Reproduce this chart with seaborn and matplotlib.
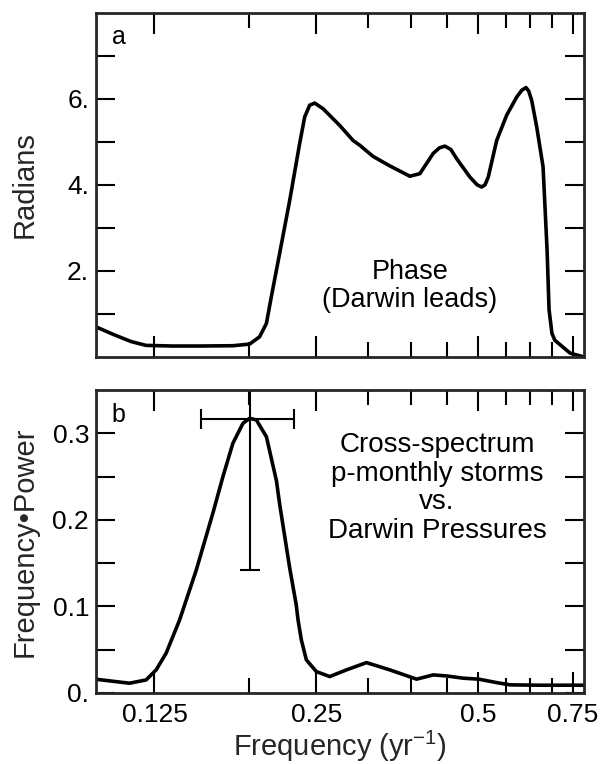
import numpy as np
import pandas as pd
import matplotlib
matplotlib.use("Agg")
import matplotlib.pyplot as plt
import seaborn as sns

# ---------------- data ----------------
phase_freq = [0.0973, 0.105, 0.113, 0.1205, 0.135, 0.1516, 0.1749, 0.1879, 0.1961,
              0.2019, 0.2062, 0.2137, 0.2231, 0.2328, 0.2379, 0.2430, 0.2483, 0.2573,
              0.2764, 0.2927, 0.3012, 0.3189, 0.3426, 0.3733, 0.3896, 0.4125, 0.4237,
              0.4337, 0.445, 0.456, 0.4828, 0.498, 0.5077, 0.515, 0.5222, 0.5414,
              0.5651, 0.5899, 0.603, 0.6139, 0.621, 0.6291, 0.6428, 0.6604, 0.6718,
              0.6776, 0.6860, 0.6944, 0.7415, 0.787]
phase_rad = [0.70, 0.52, 0.36, 0.27, 0.255, 0.255, 0.262, 0.30, 0.47,
             0.78, 1.40, 2.41, 3.64, 4.96, 5.58, 5.85, 5.90, 5.77,
             5.38, 5.03, 4.92, 4.66, 4.44, 4.20, 4.26, 4.73, 4.86,
             4.90, 4.82, 4.61, 4.18, 4.00, 3.95, 4.00, 4.18, 5.03,
             5.62, 6.04, 6.20, 6.26, 6.18, 5.96, 5.34, 4.42, 2.5,
             1.1, 0.55, 0.39, 0.09, 0.0]

power_freq = [0.0972, 0.1123, 0.1206, 0.1259, 0.1314, 0.1392, 0.1495, 0.1605, 0.1676,
              0.1749, 0.1826, 0.1879, 0.1934, 0.2019, 0.2108, 0.2137, 0.223, 0.2294,
              0.2312, 0.2345, 0.2396, 0.2501, 0.2648, 0.2845, 0.310, 0.3426, 0.3841,
              0.4125, 0.4369, 0.4692, 0.5012, 0.5414, 0.5732, 0.65, 0.787]
power_val = [0.0159, 0.0113, 0.0151, 0.0267, 0.046, 0.0844, 0.142, 0.2076, 0.25,
             0.2885, 0.3115, 0.3173, 0.3154, 0.296, 0.245, 0.218, 0.145, 0.102,
             0.0844, 0.0613, 0.0382, 0.0247, 0.019, 0.0267, 0.0351, 0.0267, 0.016,
             0.0209, 0.0197, 0.0171, 0.016, 0.012, 0.0094, 0.009, 0.009]

# error bar on the spectral peak
err_center = [0.188, 0.317]
err_freq_range = [0.1527, 0.2276]
err_val_range = [0.142, 0.492]

x_major = [0.125, 0.25, 0.5, 0.75]
x_major_labels = ["0.125", "0.25", "0.5", "0.75"]
x_minor = [0.1875, 0.3125, 0.375, 0.4375, 0.5625, 0.625, 0.6875]

a_yticks = [2, 4, 6]
a_ylabels = ["2.", "4.", "6."]
a_yminor = [1, 3, 5, 7]
b_yticks = [0.0, 0.1, 0.2, 0.3]
b_ylabels = ["0.", "0.1", "0.2", "0.3"]
b_yminor = [0.05, 0.15, 0.25]

phase_df = pd.DataFrame({"freq": phase_freq, "rad": phase_rad})
power_df = pd.DataFrame({"freq": power_freq, "val": power_val})

# ---------------- style ----------------
sns.set_style("ticks")
plt.rcParams["font.family"] = ["Liberation Sans", "DejaVu Sans"]
plt.rcParams["mathtext.fontset"] = "custom"
plt.rcParams["mathtext.rm"] = "Liberation Sans"
plt.rcParams["mathtext.it"] = "Liberation Sans:italic"

W, H = 604, 764
fig = plt.figure(figsize=(W / 100, H / 100), dpi=100)
L, R = 96, 584
ax_a = fig.add_axes([L / W, 1 - 357 / H, (R - L) / W, (357 - 12.7) / H])
ax_b = fig.add_axes([L / W, 1 - 693 / H, (R - L) / W, (693 - 390) / H])

line_kw = dict(color="black", linewidth=2.6, solid_joinstyle="round",
               solid_capstyle="round")
sns.lineplot(data=phase_df, x="freq", y="rad", ax=ax_a, sort=False, **line_kw)
sns.lineplot(data=power_df, x="freq", y="val", ax=ax_b, sort=False, **line_kw)

ax_b.errorbar([err_center[0]], [err_center[1]],
              xerr=[[err_center[0] - err_freq_range[0]], [err_freq_range[1] - err_center[0]]],
              yerr=[[err_center[1] - err_val_range[0]], [err_val_range[1] - err_center[1]]],
              fmt="none", ecolor="black", elinewidth=1.5, capsize=7.2, capthick=1.5)

for ax in (ax_a, ax_b):
    ax.set_xscale("log")
    ax.set_xlim(0.0973, 0.787)
    ax.set_xticks(x_major)
    ax.set_xticks(x_minor, minor=True)
    ax.set_xticklabels(x_major_labels)
    ax.xaxis.set_minor_formatter(matplotlib.ticker.NullFormatter())
    for s in ax.spines.values():
        s.set_linewidth(2.0)
        s.set_visible(True)
    ax.tick_params(axis="both", which="both", direction="in", top=True, right=True,
                   width=1.5, color="black", labelsize=19, labelcolor="black")
    ax.tick_params(axis="x", which="major", length=15, pad=7)
    ax.tick_params(axis="x", which="minor", length=10.5)
    ax.tick_params(axis="y", which="both", length=13.5, pad=5)
    ax.set_xlabel("")
    ax.set_ylabel("")

ax_a.set_ylim(0, 8)
ax_a.set_yticks(a_yticks)
ax_a.set_yticklabels(a_ylabels)
ax_a.set_yticks(a_yminor, minor=True)
ax_a.tick_params(axis="x", which="both", labelbottom=False)

ax_b.set_ylim(0, 0.35)
ax_b.set_yticks(b_yticks)
ax_b.set_yticklabels(b_ylabels)
ax_b.set_yticks(b_yminor, minor=True)

ax_a.set_ylabel("Radians", fontsize=21, va="center")
ax_a.yaxis.set_label_coords(-0.1455, 0.5)
ax_b.set_ylabel("Frequency\u2022Power", fontsize=21, va="center")
ax_b.yaxis.set_label_coords(-0.1455, 0.5)
ax_b.set_xlabel("Frequency (yr$^{-1}$)", fontsize=21, va="center")
ax_b.xaxis.set_label_coords(0.5, -0.177)

txt = dict(ha="center", va="center", fontsize=19.5, color="black")
ax_a.text(0.048, 0.930, "a", transform=ax_a.transAxes, **dict(txt, fontsize=18))
ax_b.text(0.046, 0.9175, "b", transform=ax_b.transAxes, **dict(txt, fontsize=18))

ax_a.text(0.6434, 0.2469, "Phase", transform=ax_a.transAxes, **txt)
ax_a.text(0.6434, 0.1656, "(Darwin leads)", transform=ax_a.transAxes, **txt)

for yy, s in zip([0.8185, 0.7228, 0.6304, 0.5347],
                 ["Cross-spectrum", "p-monthly storms", "vs.", "Darwin Pressures"]):
    ax_b.text(0.6988, yy, s, transform=ax_b.transAxes, **dict(txt, fontsize=20))

fig.savefig("out.png", dpi=100, facecolor="white")
